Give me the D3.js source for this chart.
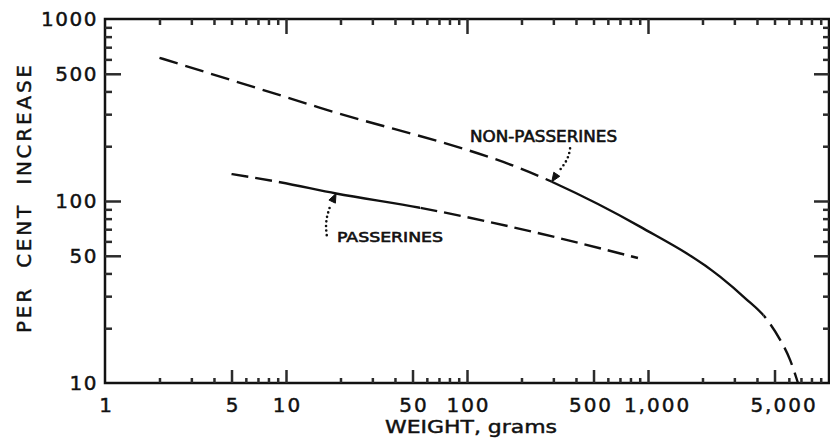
<!DOCTYPE html>
<html><head><meta charset="utf-8">
<script src="https://cdn.jsdelivr.net/npm/d3@7"></script>
<style>
html,body{margin:0;padding:0;background:#fff;}
svg{display:block;}
text{font-family:"DejaVu Sans",sans-serif;fill:#111;stroke:#111;stroke-width:0.45px;}
</style></head>
<body>
<svg id="chart" width="830" height="441"></svg>
<script>
// ---- data ----
const xTickValues = [1, 5, 10, 50, 100, 500, 1000, 5000];
const xTickLabels = ["1", "5", "10", "50", "100", "500", "1,000", "5,000"];
const yTickValues = [10, 50, 100, 500, 1000];
const yTickLabels = ["10", "50", "100", "500", "1000"];

// Non-passerines: [weight g, per cent increase]
const nonPassPoints = [[2, 612], [15, 328], [294, 127.6], [903, 72.3], [2500, 38.4], [3435, 29.3],
                       [4529, 22.4], [5312, 17.6], [6093, 13.4], [6740, 10]];
const nonPassSolidRange = [294, 4335];

// Passerines
const passPoints = [[5.0, 140.6], [9.27, 126.8], [18.9, 110], [55, 91.8], [326, 62.4], [880, 48.6]];
const passSolidRange = [9.27, 55];

const passLabel = {text: "PASSERINES", at: [18.9, 110]};
const nonPassLabel = {text: "NON-PASSERINES", at: [294, 127.6]};

// ---- layout ----
const svg = d3.select("#chart");
const L = 105, R = 829, T = 19, B = 383;
const x = d3.scaleLog().domain([1, 10000]).range([L, R]);
const y = d3.scaleLog().domain([10, 1000]).range([B, T]);

svg.append("path").attr("d", `M${L},${T}H${R}V${B}H${L}Z`)
  .style("fill", "none").style("stroke", "#111").style("stroke-width", "2.5px");

// ---- tick marks via d3 axes (inward) ----
const minorX = [];
for (let d = 1; d < 10000; d *= 10) for (let k = 2; k <= 9; k++) minorX.push(k * d);
const minorY = [];
for (let d = 10; d < 1000; d *= 10) for (let k = 2; k <= 9; k++) minorY.push(k * d);
const majorBottom = [5, 10, 50, 100, 500, 1000, 5000];
const majorTop = [10, 100, 1000];
const majorSide = [50, 100, 500];
function tickAxis(axis, tr) {
  const g = svg.append("g").attr("transform", tr).attr("color", "#2b2b2b").call(axis);
  g.select(".domain").remove();
  g.selectAll("line").attr("stroke-width", 2.5);
}
tickAxis(d3.axisBottom(x).tickValues(minorX.filter(v => majorBottom.indexOf(v) < 0)).tickSize(-5).tickFormat(""), `translate(0,${B})`);
tickAxis(d3.axisBottom(x).tickValues(majorBottom).tickSize(-13).tickFormat(""), `translate(0,${B})`);
tickAxis(d3.axisTop(x).tickValues(minorX.filter(v => majorTop.indexOf(v) < 0)).tickSize(-6).tickFormat(""), `translate(0,${T})`);
tickAxis(d3.axisTop(x).tickValues(majorTop).tickSize(-15).tickFormat(""), `translate(0,${T})`);
tickAxis(d3.axisLeft(y).tickValues(minorY.filter(v => majorSide.indexOf(v) < 0)).tickSize(-7).tickFormat(""), `translate(${L},0)`);
tickAxis(d3.axisLeft(y).tickValues(majorSide).tickSize(-16).tickFormat(""), `translate(${L},0)`);
tickAxis(d3.axisRight(y).tickValues(minorY.filter(v => majorSide.indexOf(v) < 0)).tickSize(-6).tickFormat(""), `translate(${R},0)`);
tickAxis(d3.axisRight(y).tickValues(majorSide).tickSize(-15).tickFormat(""), `translate(${R},0)`);

// tick labels
const bx = svg.append("g").attr("transform", `translate(0,${B})`)
  .call(d3.axisBottom(x).tickValues(xTickValues).tickSize(0).tickPadding(15)
    .tickFormat((d, i) => xTickLabels[i]));
bx.select(".domain").remove();
bx.selectAll("line").remove();
bx.selectAll("text").attr("font-size", 20).attr("letter-spacing", 2)
  .attr("fill", "#111").attr("font-family", "DejaVu Sans")
  .attr("dx", (d, i) => xTickLabels[i].includes(",") ? 9 : (d === 500 ? -3 : 1));

const ly = svg.append("g").attr("transform", `translate(${L},0)`)
  .call(d3.axisLeft(y).tickValues(yTickValues).tickSize(0).tickPadding(7)
    .tickFormat((d, i) => yTickLabels[i]));
ly.select(".domain").remove();
ly.selectAll("line").remove();
ly.selectAll("text").attr("font-size", 20).attr("letter-spacing", 1.5)
  .attr("fill", "#111").attr("font-family", "DejaVu Sans");

// curves
const line = d3.line().x(d => x(d[0])).y(d => y(d[1])).curve(d3.curveMonotoneX);
const defs = svg.append("defs");
let clipN = 0;
function clip(x0, x1) {
  const id = "c" + (clipN++);
  defs.append("clipPath").attr("id", id).append("rect")
    .attr("x", x0).attr("y", 0).attr("width", Math.max(0, x1 - x0)).attr("height", 441);
  return `url(#${id})`;
}
function drawSeries(pts, solid, dash) {
  const d = line(pts);
  const s0 = x(solid[0]), s1 = x(solid[1]);
  svg.append("path").attr("d", d).style("fill", "none").style("stroke", "#111")
    .style("stroke-width", "2.4px").attr("clip-path", clip(s0, s1));
  [[0, s0], [s1, 830]].forEach(([a, b]) => {
    svg.append("path").attr("d", d).style("fill", "none").style("stroke", "#111")
      .style("stroke-width", "2.4px").attr("stroke-dasharray", dash).attr("clip-path", clip(a, b));
  });
}
drawSeries(nonPassPoints, nonPassSolidRange, "19 8");
drawSeries(passPoints, passSolidRange, "17 7");

// annotations
function annotate(lbl, leader, textOff, textLen, fs) {
  const tx = x(lbl.at[0]), ty = y(lbl.at[1]);
  const pts = leader.map(p => [tx + p[0], ty + p[1]]);
  svg.append("path").attr("d", d3.line().curve(d3.curveCatmullRom)(pts))
    .style("fill", "none").style("stroke", "#111").style("stroke-width", "2.6px")
    .attr("stroke-linecap", "round").attr("stroke-dasharray", "0 4.6");
  const last = pts[pts.length - 1];
  const ang = Math.atan2(ty - last[1], tx - last[0]);
  const len = 9, w = 3.6;
  const bxp = tx - len * Math.cos(ang), byp = ty - len * Math.sin(ang);
  const nx = -Math.sin(ang) * w, ny = Math.cos(ang) * w;
  svg.append("path")
    .attr("d", `M${tx},${ty}L${bxp + nx},${byp + ny}L${bxp - nx},${byp - ny}Z`)
    .style("fill", "#111").style("stroke", "#111").style("stroke-width", "1px");
  svg.append("text").attr("x", tx + textOff[0]).attr("y", ty + textOff[1])
    .attr("font-size", fs).attr("textLength", textLen).attr("lengthAdjust", "spacingAndGlyphs")
    .style("stroke-width", "0.6px").text(lbl.text);
}
annotate(passLabel, [[-9.3, 41.7], [-10, 33], [-9.3, 25], [-7.7, 18.4], [-5.5, 11.5]], [1, 48.4], 106, 14);
annotate(nonPassLabel, [[18.3, -33.4], [17, -27], [14.5, -21], [11, -15.5], [7, -10.5]], [-81.7, -39.4], 147, 15);

// axis titles
svg.append("text").attr("x", 471).attr("y", 432.7).attr("text-anchor", "middle")
  .attr("font-size", 18).attr("textLength", 172).attr("lengthAdjust", "spacingAndGlyphs")
  .text("WEIGHT, grams");
svg.append("text").attr("transform", "translate(31,199) rotate(-90)").attr("text-anchor", "middle")
  .attr("font-size", 20).attr("textLength", 268).attr("lengthAdjust", "spacing")
  .attr("xml:space", "preserve").style("white-space", "pre")
  .text("PER  CENT  INCREASE");
</script>
</body></html>
